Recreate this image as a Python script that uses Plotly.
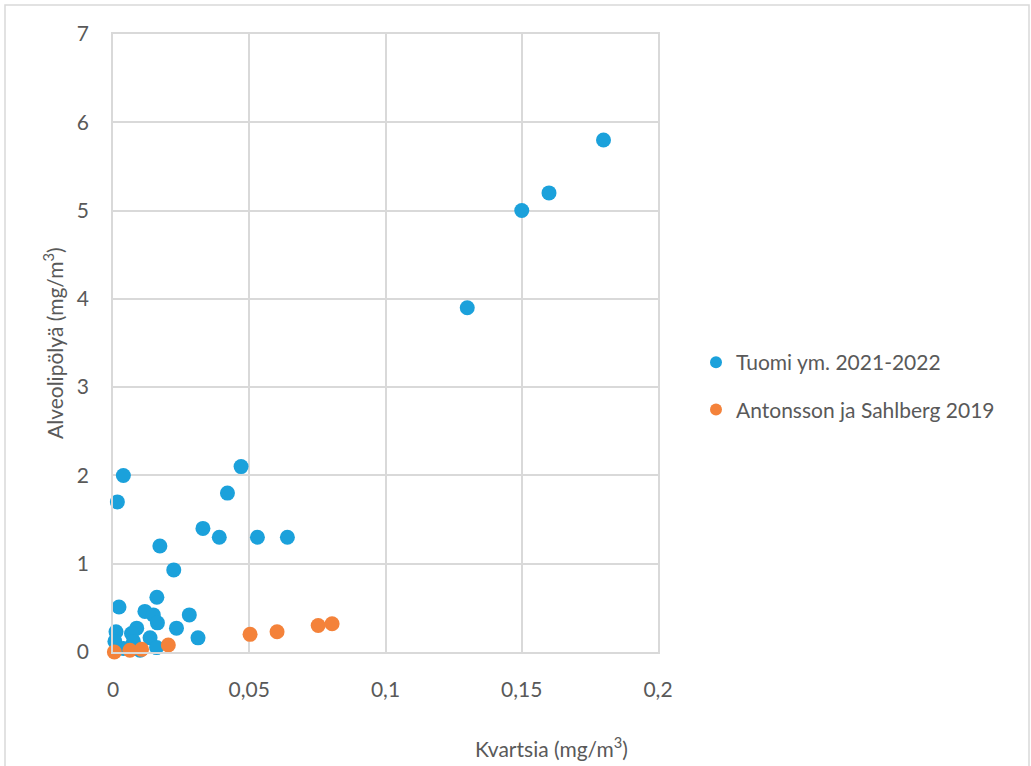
import plotly.graph_objects as go

# Tuomi ym. 2021-2022
tuomi_x = [0.18, 0.16, 0.15, 0.13, 0.047, 0.042, 0.0038, 0.0016, 0.033, 0.039, 0.053, 0.064,
           0.0172, 0.0223, 0.0022, 0.0161, 0.028, 0.0233, 0.0312, 0.0117, 0.0148, 0.0163,
           0.0011, 0.0087, 0.0068, 0.0136, 0.016, 0.0007, 0.0038, 0.0099, 0.0075]
tuomi_y = [5.8, 5.2, 5.0, 3.9, 2.1, 1.8, 2.0, 1.7, 1.4, 1.3, 1.3, 1.3,
           1.2, 0.93, 0.51, 0.62, 0.42, 0.27, 0.16, 0.46, 0.42, 0.33,
           0.23, 0.27, 0.21, 0.16, 0.05, 0.12, 0.04, 0.02, 0.12]

# Antonsson ja Sahlberg 2019
anton_x = [0.0005, 0.0062, 0.0105, 0.0203, 0.0503, 0.0602, 0.0753, 0.0804]
anton_y = [0.0, 0.02, 0.03, 0.08, 0.2, 0.23, 0.30, 0.32]

x_ticks = [0, 0.05, 0.1, 0.15, 0.2]
x_ticklabels = ["0", "0,05", "0,1", "0,15", "0,2"]
y_ticks = [0, 1, 2, 3, 4, 5, 6, 7]

BLUE = "#1BA1DB"
ORANGE = "#F4823A"
GRID = "#D9D9D9"
TXT = "#595959"
FONT = "Lato"

fig = go.Figure()
fig.add_trace(go.Scatter(x=tuomi_x, y=tuomi_y, mode="markers", name="Tuomi ym. 2021-2022",
                         legendgroup="a", cliponaxis=False,
                         marker=dict(color=BLUE, size=15, line=dict(width=0))))
fig.add_trace(go.Scatter(x=anton_x, y=anton_y, mode="markers", name="Antonsson ja Sahlberg 2019",
                         legendgroup="b", cliponaxis=False,
                         marker=dict(color=ORANGE, size=15, line=dict(width=0))))

L, R, T, B = 113, 1031 - 658, 34, 766 - 652
PW, PH = 658 - 113, 652 - 34

def px2x(px):
    return (px - L) / PW

def py2y(py):
    return (652 - py) / PH

fig.update_layout(
    width=1031, height=766,
    margin=dict(l=L, r=R, t=T, b=B, autoexpand=False),
    paper_bgcolor="white", plot_bgcolor="white",
    font=dict(family=FONT, size=21, color=TXT),
    showlegend=True,
    legend=dict(x=px2x(696), y=py2y(386), xanchor="left", yanchor="middle",
                font=dict(family=FONT, size=21, color=TXT),
                tracegroupgap=17, itemsizing="constant", bgcolor="rgba(0,0,0,0)"),
    xaxis=dict(range=[0, 0.2], tickvals=x_ticks, ticktext=x_ticklabels,
               showgrid=True, gridcolor=GRID, gridwidth=1.5,
               showline=True, linecolor=GRID, linewidth=1.5, mirror=True,
               zeroline=False, ticks="", ticklabelstandoff=18,
               tickfont=dict(family=FONT, size=21, color=TXT), fixedrange=True),
    yaxis=dict(range=[0, 7], tickvals=y_ticks,
               showgrid=True, gridcolor=GRID, gridwidth=1.5,
               showline=True, linecolor=GRID, linewidth=1.5, mirror=True,
               zeroline=False, ticks="", ticklabelstandoff=18,
               tickfont=dict(family=FONT, size=21, color=TXT), fixedrange=True),
)

fig.add_annotation(text="Kvartsia (mg/m<sup>3</sup>)", xref="paper", yref="paper",
                   x=px2x(551), y=py2y(747), xanchor="center", yanchor="middle",
                   showarrow=False, font=dict(family=FONT, size=21, color=TXT))
fig.add_annotation(text="Alveolipölyä (mg/m<sup>3</sup>)", xref="paper", yref="paper",
                   x=px2x(53), y=py2y(343), xanchor="center", yanchor="middle",
                   textangle=-90, showarrow=False, font=dict(family=FONT, size=21, color=TXT))

fig.add_shape(type="rect", xref="paper", yref="paper",
              x0=px2x(5), x1=px2x(1029), y0=py2y(780), y1=py2y(5),
              line=dict(color=GRID, width=1.5), fillcolor="rgba(0,0,0,0)", layer="below")

fig.write_html("out.html")
